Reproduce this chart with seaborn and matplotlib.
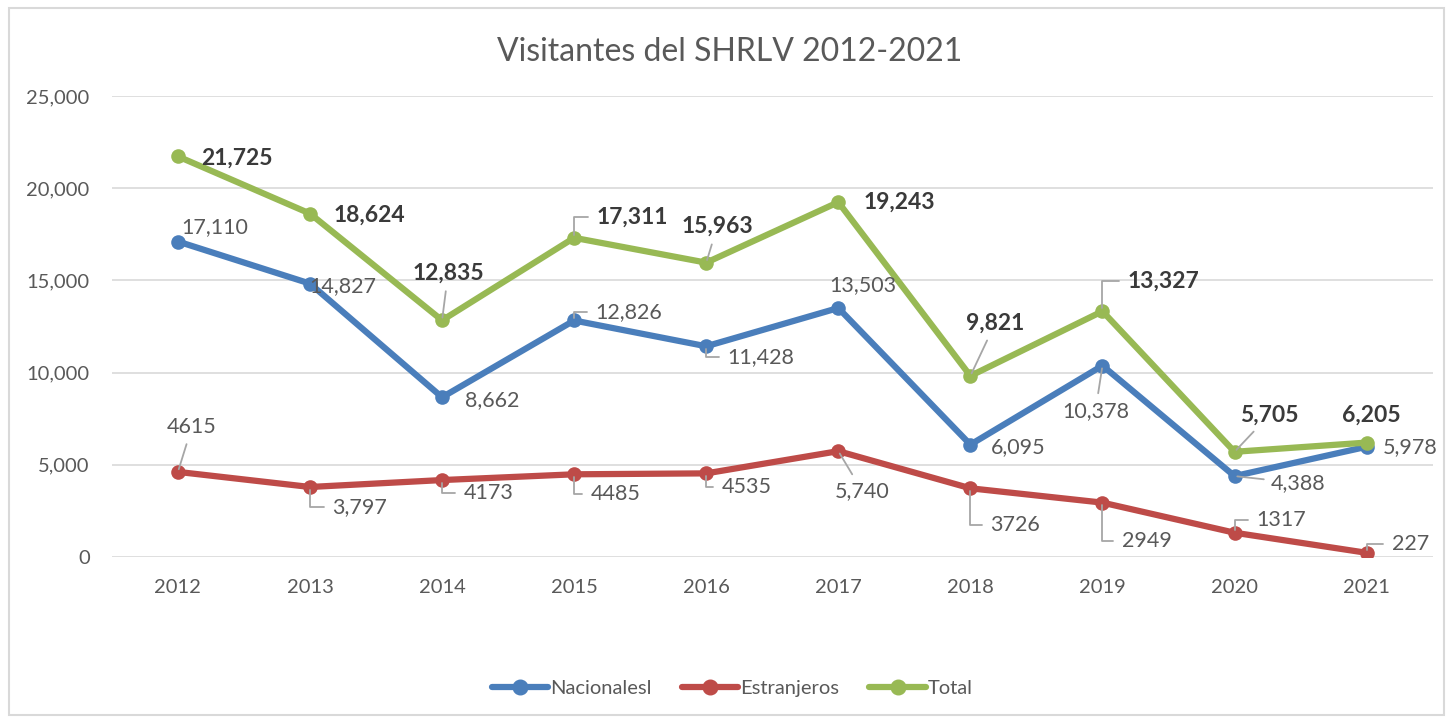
import numpy as np
import pandas as pd
import matplotlib
matplotlib.use("Agg")
import matplotlib.pyplot as plt
from matplotlib.lines import Line2D
from matplotlib.patches import Rectangle
import seaborn as sns

# data
years = [2012, 2013, 2014, 2015, 2016, 2017, 2018, 2019, 2020, 2021]
nacionales = [17110, 14827, 8662, 12826, 11428, 13503, 6095, 10378, 4388, 5978]
estranjeros = [4615, 3797, 4173, 4485, 4535, 5740, 3726, 2949, 1317, 227]
total = [21725, 18624, 12835, 17311, 15963, 19243, 9821, 13327, 5705, 6205]
series_names = ["Nacionalesl", "Estranjeros", "Total"]

# labels as printed on the chart (mixed formatting in the source)
lab_nac = ["17,110", "14,827", "8,662", "12,826", "11,428", "13,503", "6,095", "10,378", "4,388", "5,978"]
lab_est = ["4615", "3,797", "4173", "4485", "4535", "5,740", "3726", "2949", "1317", "227"]
lab_tot = ["21,725", "18,624", "12,835", "17,311", "15,963", "19,243", "9,821", "13,327", "5,705", "6,205"]

colors = {"Nacionalesl": "#4a7ebb", "Estranjeros": "#be4b48", "Total": "#98b954"}
txt_col = "#595959"

df = pd.DataFrame({
    "year": years * 3,
    "value": nacionales + estranjeros + total,
    "serie": [s for s in series_names for _ in years],
})
df["x"] = df["year"].map({y: i for i, y in enumerate(years)})

sns.set_style("white")
plt.rcParams["font.family"] = ["Lato", "DejaVu Sans"]

fig = plt.figure(figsize=(14.53, 7.23), dpi=100)
ax = fig.add_axes([0.077, 0.2296, 0.909, 0.6376])

sns.lineplot(data=df, x="x", y="value", hue="serie", palette=colors,
             hue_order=series_names, marker="o", markersize=10.5, linewidth=4.5,
             markeredgewidth=0, ax=ax, legend=False, sort=False)

ax.set_xlim(-0.5, len(years) - 0.5)
ax.set_ylim(0, 25000)
ax.set_yticks(np.arange(0, 25001, 5000))
ax.set_yticklabels([f"{v:,}" for v in range(0, 25001, 5000)])
ax.set_xticks(range(len(years)))
ax.set_xticklabels([str(y) for y in years])
ax.tick_params(axis="both", length=0, labelsize=14.5, colors=txt_col)
ax.tick_params(axis="x", pad=16)
ax.tick_params(axis="y", pad=16)
ax.grid(axis="y", color="#d9d9d9", linewidth=1.2)
ax.set_axisbelow(True)
for s in ax.spines.values():
    s.set_visible(False)
ax.set_xlabel("")
ax.set_ylabel("")

# label offsets in pixels (dx, dy up positive); leader: 0 none, 1 straight, 2 elbow
off_nac = [(37, 14), (33, -2), (50, -3), (55, 8), (55, -11), (25, 23), (48, -2), (-7, -45), (64, -7), (44, 0)]
lead_nac = [0, 0, 0, 2, 2, 0, 0, 1, 1, 0]
off_est = [(14, 45), (50, -20), (47, -13), (42, -20), (41, -14), (24, -40), (45, -37), (44, -38), (47, 13), (44, 9)]
lead_est = [1, 2, 2, 2, 2, 1, 2, 2, 2, 2]
off_tot = [(59, -2), (59, -2), (6, 47), (58, 21), (11, 36), (61, 0), (25, 53), (61, 30), (35, 37), (5, 27)]
lead_tot = [0, 0, 1, 2, 1, 0, 1, 2, 1, 0]


def put_labels(vals, labs, offs, leads, bold, size):
    for i, (v, lab, (dx, dy), ld) in enumerate(zip(vals, labs, offs, leads)):
        arrow = None
        if ld == 1:
            arrow = dict(arrowstyle="-", color="#a6a6a6", lw=1.3, shrinkA=3, shrinkB=2)
        elif ld == 2:
            arrow = dict(arrowstyle="-", color="#a6a6a6", lw=1.3, shrinkA=4, shrinkB=2,
                         relpos=(0, 0.5), connectionstyle="angle,angleA=0,angleB=90,rad=0")
        ax.annotate(lab, xy=(i, v), xytext=(dx, dy), textcoords="offset pixels",
                    ha="center", va="center", fontsize=size,
                    color="#3a3a3a" if bold else txt_col,
                    fontweight="bold" if bold else "normal", arrowprops=arrow)


put_labels(nacionales, lab_nac, off_nac, lead_nac, False, 15.5)
put_labels(estranjeros, lab_est, off_est, lead_est, False, 15.5)
put_labels(total, lab_tot, off_tot, lead_tot, True, 16.5)

fig.text(0.502, 0.928, "Visitantes del SHRLV 2012-2021", ha="center", va="center",
         fontsize=23, color=txt_col)

handles = [Line2D([0], [0], color=colors[s], lw=4.5, marker="o", markersize=10.5) for s in series_names]
fig.legend(handles, series_names, loc="center", bbox_to_anchor=(0.504, 0.048), ncol=3,
           frameon=False, fontsize=14.5, labelcolor=txt_col, handlelength=2.8,
           columnspacing=1.5, handletextpad=0.1)

fig.patches.append(Rectangle((0.006, 0.011), 0.988, 0.978, transform=fig.transFigure,
                             fill=False, edgecolor="#d9d9d9", linewidth=1.5))

fig.savefig("out.png", dpi=100)
